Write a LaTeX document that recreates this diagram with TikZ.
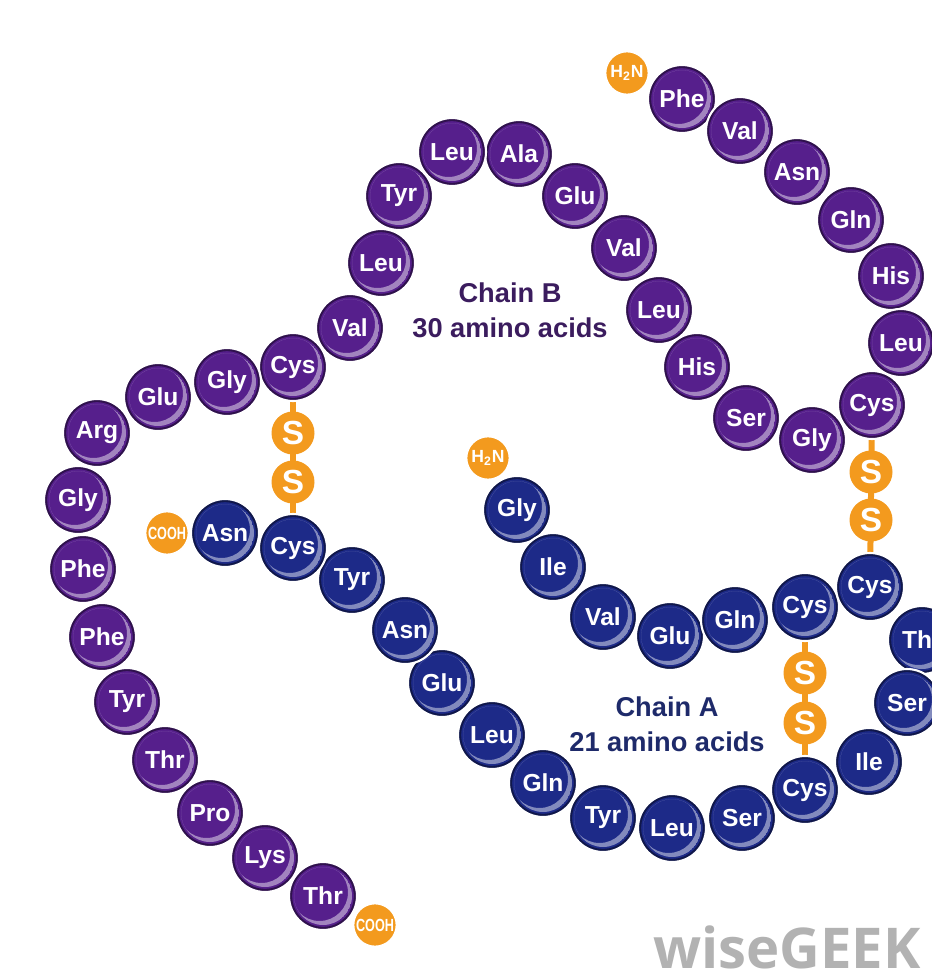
\documentclass[tikz,border=0pt]{standalone}
\usepackage{fontspec}
\setsansfont{Liberation Sans}
\newfontfamily\wisefont{Open Sans}
\usepackage{tikz}
\usetikzlibrary{positioning, backgrounds}

\definecolor{chainB}{HTML}{561F8C}
\definecolor{chainA}{HTML}{1D2A88}
\definecolor{sulfur}{HTML}{F39A1E}
\definecolor{labelB}{HTML}{3B1C5E}
\definecolor{labelA}{HTML}{1E2A6A}

\newcommand{\squeeze}[2][.72]{\scalebox{#1}[1]{#2}}

\tikzset{
  bead/.style={circle, fill=#1, draw=white, line width=1.2pt, minimum size=1.36cm, inner sep=0pt,
    text=white, font=\sffamily\bfseries\fontsize{14}{14}\selectfont,
    path picture={
      \draw[#1!55!black, line width=1.6pt] (path picture bounding box.center) circle (0.645cm);
      \clip (path picture bounding box.center) circle (0.58cm);
      \fill[white, opacity=.45, even odd rule] (path picture bounding box.center) circle (0.58cm)
        ([shift={(-0.07cm,0.07cm)}]path picture bounding box.center) circle (0.57cm);
    }},
  term/.style={circle, fill=sulfur, draw=white, line width=1pt, minimum size=0.86cm, inner sep=0pt,
    text=white, font=\sffamily\bfseries\fontsize{10}{10}\selectfont},
  sbead/.style={circle, fill=sulfur, minimum size=0.86cm, inner sep=0pt,
    text=white, font=\sffamily\bfseries\fontsize{19}{19}\selectfont},
  bond/.style={draw=sulfur, line width=0.12cm},
  chainlabel/.style={align=center, font=\sffamily\bfseries\fontsize{15.5}{20}\selectfont}
}

\begin{document}
\begin{tikzpicture}[x=0.02cm, y=-0.02cm]
\useasboundingbox (0,0) rectangle (932,980);

% chain B, N end at the top right
\node[term] (nB) at (627,73) {H\textsubscript{2}N};
\foreach \n/\x/\y/\t in {1/682/99/Phe, 2/740/131/Val, 3/797/172/Asn, 4/851/220/Gln,
    5/891/276/His, 6/901/343/Leu, 7/872/405/Cys, 8/812/440/Gly, 9/746/418/Ser,
    10/697/367/His, 11/659/310/Leu, 12/624/248/Val, 13/575/196/Glu, 14/519/154/Ala,
    15/452/152/Leu, 16/399/196/Tyr, 17/381/263/Leu, 18/350/328/Val, 19/293/367/Cys,
    20/227/382/Gly, 21/158/397/Glu, 22/97/433/Arg, 23/78/500/Gly, 24/83/569/Phe,
    25/102/637/Phe, 26/127/702/Tyr, 27/165/760/Thr, 28/210/813/Pro, 29/265/858/Lys,
    30/323/896/Thr}
    \node[bead=chainB] (b\n) at (\x,\y) {\t};
\node[term] (cB) at (375,925) {\squeeze{COOH}};

% chain A
\node[term] (nA) at (488,458) {H\textsubscript{2}N};
\foreach \n/\x/\y/\t in {1/517/510/Gly, 2/553/567/Ile, 3/603/617/Val, 4/670/636/Glu,
    5/735/620/Gln, 6/805/607/Cys, 7/870/587/Cys, 8/922/640/Thr, 9/907/703/Ser,
    10/869/762/Ile, 11/805/790/Cys, 12/742/818/Ser, 13/672/828/Leu, 14/603/818/Tyr,
    15/543/783/Gln, 16/492/735/Leu, 17/442/683/Glu, 18/405/630/Asn, 19/352/580/Tyr,
    20/293/548/Cys, 21/225/533/Asn}
    \node[bead=chainA] (a\n) at (\x,\y) {\t};
\node[term] (cA) at (167,533) {\squeeze{COOH}};

% disulfide bridges
\node[sbead] (sL1) at (293,433) {S};
\node[sbead] (sL2) at (293,482) {S};
\node[sbead] (sR1) at (871,472) {S};
\node[sbead] (sR2) at (871,520) {S};
\node[sbead] (sM1) at (805,673) {S};
\node[sbead] (sM2) at (805,723) {S};

\begin{scope}[on background layer]
    \fill[white] (0,0) rectangle (932,980);
    \draw[bond] (b19) -- (a20);
    \draw[bond] (b7) -- (a7);
    \draw[bond] (a6) -- (a11);
\end{scope}

\node[chainlabel, text=labelB] (labB) at (510,310) {Chain B\\30 amino acids};
\node[chainlabel, text=labelA] (labA) at (667,724) {Chain A\\21 amino acids};

\node[font=\wisefont\bfseries\fontsize{32}{32}\selectfont, text=black!30, anchor=base, inner sep=0pt] (wise) at (787,968) {wiseGEEK};
\end{tikzpicture}
\end{document}
